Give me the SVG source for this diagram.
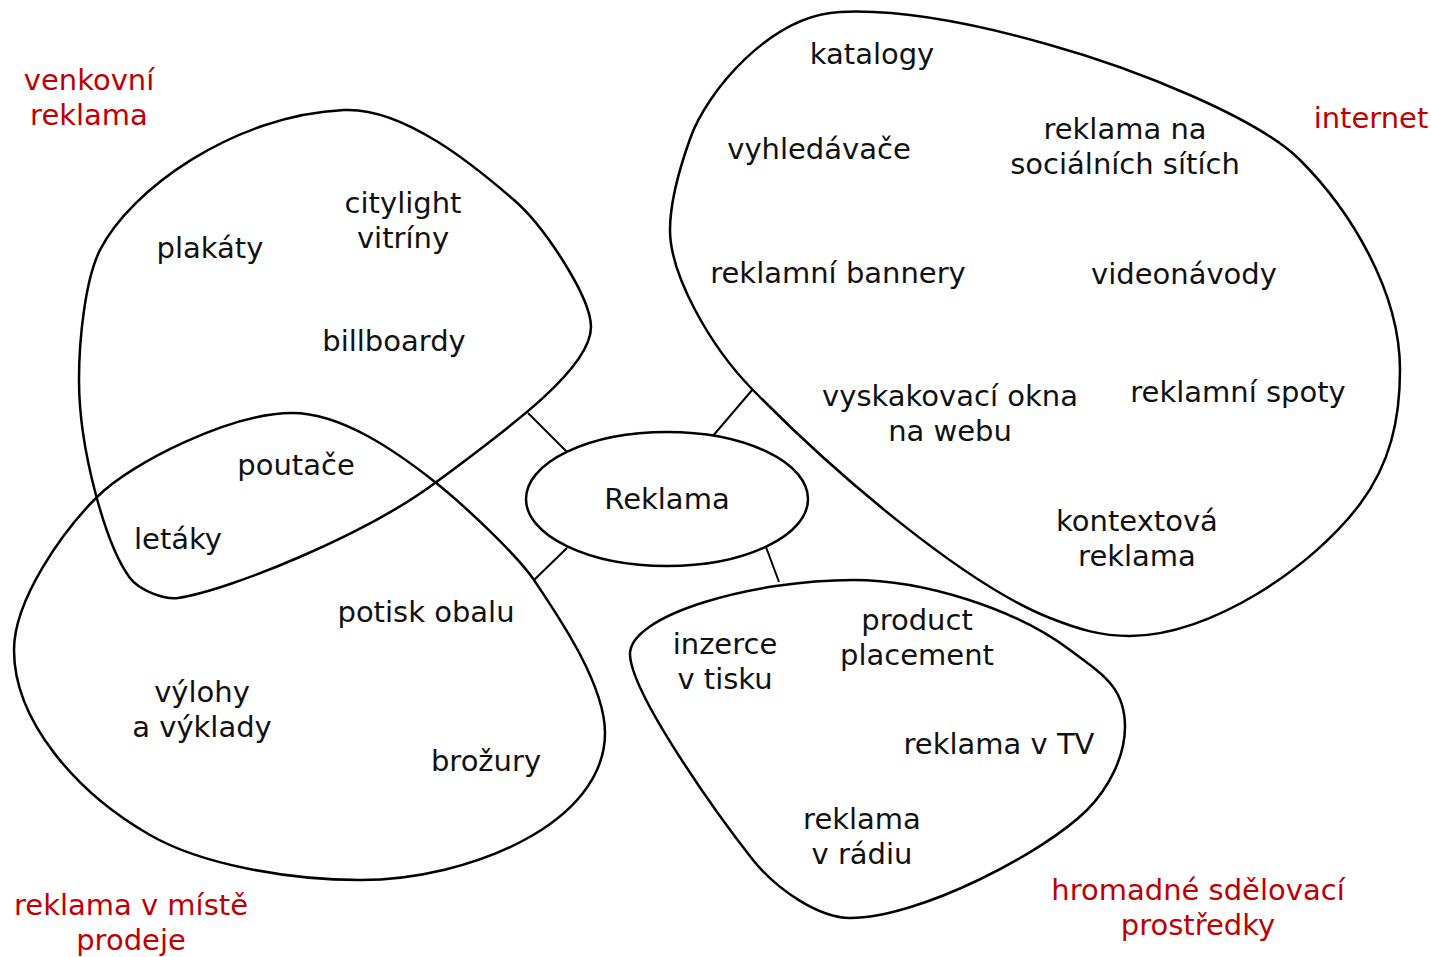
<svg xmlns="http://www.w3.org/2000/svg" width="1431" height="957" viewBox="0 0 1431 957">
  <style>
    .blob { fill: none; stroke: #000; stroke-width: 2.5; }
    .hub { fill: #fff; stroke: #000; stroke-width: 2.5; }
    .link { stroke: #000; stroke-width: 2; }
    text { font-family: "DejaVu Sans", "Liberation Sans", sans-serif; font-size: 29px; text-anchor: middle; fill: #111; }
    .cat { fill: #c00000; }
  </style>
  <rect width="1431" height="957" fill="#fff"/>

  <!-- group outlines (smooth closed curves) -->
  <g id="outdoor">
    <path class="blob" d="M344,110 C234,115 130,190 100,250 C85,280 79,340 79,380 C79,450 106,546 130,578 C139,590 163,599.5 178,598 C230,590 365,535 435,483 C515,424 591,367 591,327 C591,297 544,226 514,200 C476,167 404,107 344,110 Z"/>
  </g>
  <g id="pos">
    <path class="blob" d="M292,413 C232,413 132,462 97,497 C62,532 14,600 14,650 C14,720 75,792 150,835 C202,865 290,880 360,880 C470,880 605,823 605,733 C605,683 556,613 534,580 C517,555 465,506 435,482 C397,452 342,413 292,413 Z"/>
  </g>
  <g id="internet">
    <path class="blob" d="M840,12 C770,15.5 706.5,92 690,139 C680,167 670,200 670,230 C670,275 710,346 752,389 C836,475 966,585 1050,618 C1078,629 1100,636 1130,636 C1210,636 1312,568 1360,504 C1390,464 1400,420 1400,370 C1400,290 1349,209 1300,160 C1258,118 1136,69 1050,45 C973,23 900,9 840,12 Z"/>
  </g>
  <g id="media">
    <path class="blob" d="M853,580 C753,580 628,615 630,655 C632,695 716,813 753,860 C778,891 820,918 850,918 C920,918 1045,852 1087,810 C1108,789 1125,757 1125,727 C1125,687 1102,674 1070,650 C1014,608 923,580 853,580 Z"/>
  </g>

  <!-- connectors from the hub to each group -->
  <g id="connectors">
    <line class="link" x1="528" y1="413" x2="567" y2="452"/>
    <line class="link" x1="753" y1="389" x2="712" y2="437"/>
    <line class="link" x1="534" y1="580" x2="567" y2="548"/>
    <line class="link" x1="766" y1="547" x2="779" y2="582"/>
  </g>

  <g id="hub">
    <ellipse class="hub" cx="667" cy="499" rx="141" ry="67"/>
    <text x="667" y="509">Reklama</text>
  </g>

  <!-- category labels -->
  <g id="labels">
    <text class="cat" x="89" y="90">venkovní</text>
    <text class="cat" x="89" y="125">reklama</text>
    <text class="cat" x="1371" y="128">internet</text>
    <text class="cat" x="131" y="915">reklama v místě</text>
    <text class="cat" x="131" y="950">prodeje</text>
    <text class="cat" x="1198" y="900">hromadné sdělovací</text>
    <text class="cat" x="1198" y="935">prostředky</text>
  </g>

  <!-- items -->
  <g id="items">
    <text x="872" y="64">katalogy</text>
    <text x="819" y="159">vyhledávače</text>
    <text x="1125" y="139">reklama na</text>
    <text x="1125" y="174">sociálních sítích</text>
    <text x="838" y="283">reklamní bannery</text>
    <text x="1184" y="284">videonávody</text>
    <text x="950" y="406">vyskakovací okna</text>
    <text x="950" y="441">na webu</text>
    <text x="1238" y="402">reklamní spoty</text>
    <text x="1137" y="531">kontextová</text>
    <text x="1137" y="566">reklama</text>

    <text x="210" y="258">plakáty</text>
    <text x="403" y="213">citylight</text>
    <text x="403" y="248">vitríny</text>
    <text x="394" y="351">billboardy</text>
    <text x="296" y="475">poutače</text>
    <text x="178" y="549">letáky</text>

    <text x="426" y="622">potisk obalu</text>
    <text x="202" y="702">výlohy</text>
    <text x="202" y="737">a výklady</text>
    <text x="486" y="771">brožury</text>

    <text x="725" y="654">inzerce</text>
    <text x="725" y="689">v tisku</text>
    <text x="917" y="630">product</text>
    <text x="917" y="665">placement</text>
    <text x="999" y="754">reklama v TV</text>
    <text x="862" y="829">reklama</text>
    <text x="862" y="864">v rádiu</text>
  </g>
</svg>
